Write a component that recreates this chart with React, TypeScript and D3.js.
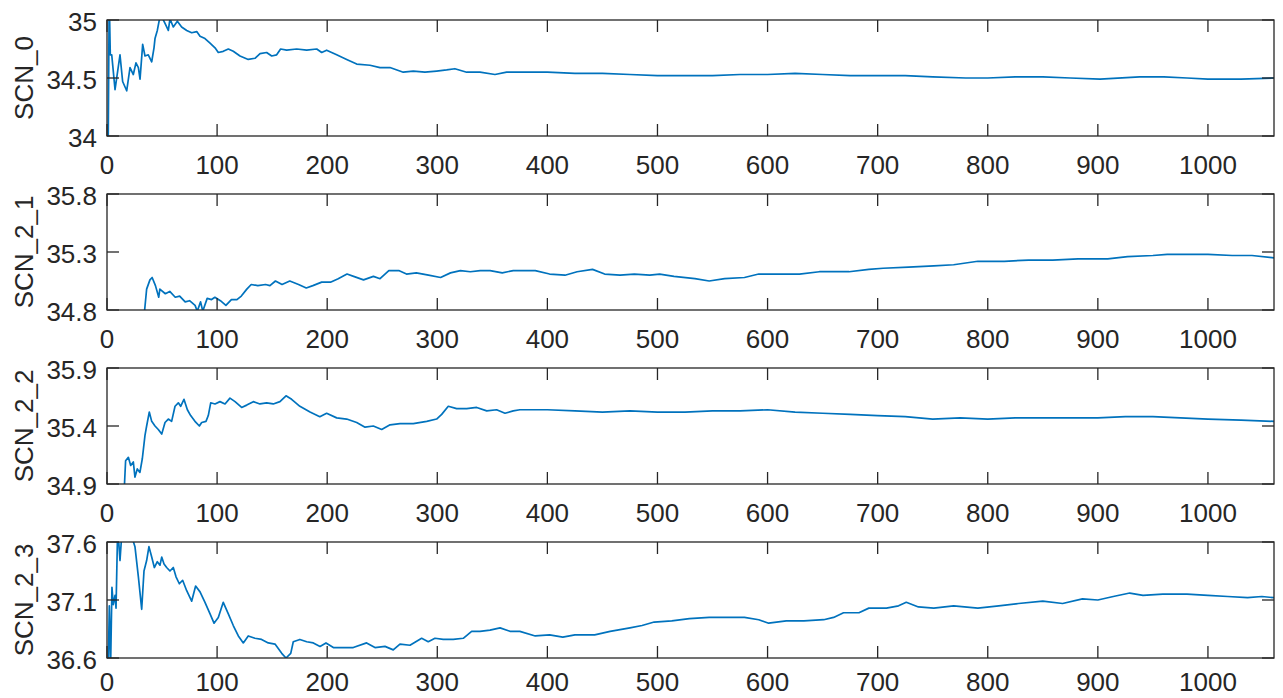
import * as d3 from 'd3';

// x ticks shared by every panel
const xTickValues = [0, 100, 200, 300, 400, 500, 600, 700, 800, 900, 1000];

// panel labels and y ticks
const panelLabels = ['SCN_0', 'SCN_2_1', 'SCN_2_2', 'SCN_2_3'];
const yTicks0 = [34, 34.5, 35];
const yTicks1 = [34.8, 35.3, 35.8];
const yTicks2 = [34.9, 35.4, 35.9];
const yTicks3 = [36.6, 37.1, 37.6];

// series values, [iteration, value]
const scn0 = [
  [1, 33.8], [2, 35.2], [3, 34.7], [4.3, 34.7], [7.3, 34.4], [11.8, 34.7], [14.2, 34.47], [17.9, 34.39],
  [20.9, 34.59], [23.9, 34.53], [26.3, 34.63], [28.5, 34.59], [30, 34.49], [32.4, 34.79], [34.5, 34.69],
  [37.5, 34.7], [40.6, 34.64], [42.7, 34.76], [43.6, 34.84], [45.7, 34.91], [47.5, 35.0], [49.7, 35.03],
  [52.7, 34.97], [55.7, 34.91], [57.2, 35.01], [60.2, 34.94], [63.9, 34.99], [67.8, 34.94], [72.4, 34.91],
  [76.9, 34.89], [81.5, 34.9], [84.5, 34.86], [89, 34.84], [93.6, 34.8], [98.1, 34.76], [101.1, 34.72],
  [105.6, 34.73], [110.2, 34.75], [114.7, 34.73], [120.8, 34.69], [128.3, 34.66], [134.4, 34.67], [139, 34.71],
  [145, 34.72], [149.6, 34.69], [154.1, 34.7], [157.7, 34.75], [163.2, 34.74], [172.3, 34.75], [181.4, 34.74],
  [190.5, 34.75], [195, 34.72], [199.5, 34.74], [208.6, 34.7], [217.7, 34.66], [226.8, 34.62], [238.9, 34.61],
  [248, 34.59], [257, 34.59], [269.1, 34.55], [278.2, 34.56], [288.8, 34.55], [299.4, 34.56], [308.5, 34.57],
  [316, 34.58], [326.7, 34.55], [338.8, 34.55], [352.4, 34.53], [363, 34.55], [375, 34.55], [400, 34.55],
  [425, 34.54], [450, 34.54], [475, 34.53], [500, 34.52], [525, 34.52], [550, 34.52], [575, 34.53],
  [600, 34.53], [625, 34.54], [650, 34.53], [675, 34.52], [700, 34.52], [725, 34.52], [750, 34.51],
  [780, 34.5], [800, 34.5], [825, 34.51], [850, 34.51], [875, 34.5], [902, 34.49], [938, 34.51],
  [960, 34.51], [981, 34.5], [1000, 34.49], [1030, 34.49], [1060, 34.5],
];

const scn21 = [
  [34, 34.78], [36, 34.98], [39, 35.06], [41, 35.08], [44, 35.01], [47, 34.91], [48, 34.98], [53, 34.94],
  [57, 34.96], [62, 34.91], [66, 34.92], [71, 34.87], [75, 34.88], [80, 34.84], [82, 34.79], [85, 34.87],
  [87, 34.79], [91, 34.9], [95, 34.89], [98, 34.91], [103, 34.88], [108, 34.84], [113, 34.89], [118, 34.89],
  [122, 34.92], [127, 34.98], [131, 35.02], [137, 35.01], [144, 35.02], [148, 35.01], [153, 35.05], [159, 35.02],
  [166, 35.05], [174, 35.02], [181, 34.99], [187, 35.01], [195, 35.04], [203, 35.04], [210, 35.07], [218, 35.11],
  [224, 35.09], [233, 35.06], [242, 35.09], [248, 35.07], [256, 35.14], [265, 35.14], [272, 35.11], [281, 35.12],
  [292, 35.1], [303, 35.08], [312, 35.12], [321, 35.14], [330, 35.13], [339, 35.14], [348, 35.14], [359, 35.12],
  [369, 35.14], [375, 35.14], [389, 35.14], [402, 35.11], [416, 35.1], [427, 35.13], [441, 35.15], [452, 35.11],
  [466, 35.1], [479, 35.11], [493, 35.1], [502, 35.11], [515, 35.09], [534, 35.07], [547, 35.05], [561, 35.07],
  [579, 35.08], [592, 35.11], [610, 35.11], [629, 35.11], [647, 35.13], [674, 35.13], [692, 35.15], [705, 35.16],
  [728, 35.17], [751, 35.18], [769, 35.19], [791, 35.22], [815, 35.22], [837, 35.23], [859, 35.23], [882, 35.24],
  [909, 35.24], [927, 35.26], [950, 35.27], [963, 35.28], [981, 35.28], [1000, 35.28], [1022, 35.27],
  [1040, 35.27], [1060, 35.25],
];

const scn22 = [
  [15.7, 34.86], [16.9, 35.1], [19.4, 35.13], [21.5, 35.06], [23.9, 35.09], [25.4, 34.96], [27.5, 35.03],
  [29.9, 35.0], [32.1, 35.12], [34.5, 35.32], [36, 35.4], [38.4, 35.52], [40.6, 35.44], [43.6, 35.4],
  [46.6, 35.37], [49.7, 35.33], [52.7, 35.43], [55.7, 35.46], [58.7, 35.44], [61.8, 35.57], [64.8, 35.6],
  [66.9, 35.57], [69.9, 35.63], [73, 35.54], [76, 35.49], [79.9, 35.44], [83.9, 35.4], [86, 35.43],
  [89.9, 35.44], [92, 35.49], [94.2, 35.6], [98.1, 35.59], [102.6, 35.61], [107.2, 35.59], [111.7, 35.64],
  [116.3, 35.61], [122.3, 35.56], [126.9, 35.58], [132.9, 35.61], [138.9, 35.59], [145, 35.6], [151, 35.59],
  [157.1, 35.61], [162.6, 35.66], [167.7, 35.63], [175.2, 35.57], [184.4, 35.52], [193.3, 35.48], [199.5, 35.51],
  [208.6, 35.47], [217.7, 35.46], [226.8, 35.43], [234.4, 35.39], [241.9, 35.4], [249.5, 35.37], [257.1, 35.41],
  [266.1, 35.42], [278.2, 35.42], [290.4, 35.44], [299.4, 35.46], [304, 35.5], [310, 35.57], [317.6, 35.55],
  [326.7, 35.55], [335.8, 35.56], [344.9, 35.53], [353.9, 35.54], [361.5, 35.51], [369, 35.53], [375, 35.54],
  [400, 35.54], [425, 35.53], [450, 35.52], [475, 35.53], [500, 35.52], [525, 35.52], [550, 35.53],
  [575, 35.53], [600, 35.54], [625, 35.52], [650, 35.51], [675, 35.5], [700, 35.49], [725, 35.48],
  [750, 35.46], [775, 35.47], [800, 35.46], [825, 35.47], [850, 35.47], [875, 35.47], [900, 35.47],
  [925, 35.48], [950, 35.48], [975, 35.47], [1000, 35.46], [1030, 35.45], [1060, 35.44],
];

const scn23 = [
  [1.2, 36.55], [2.1, 37.05], [3.3, 36.55], [4.5, 37.21], [5.7, 37.06], [7.3, 37.14], [8.2, 37.03],
  [9.4, 37.59], [10.3, 37.65], [11.8, 37.44], [13.3, 37.65], [22.4, 37.65], [25.4, 37.56], [28.5, 37.3],
  [31.5, 37.02], [33.6, 37.35], [36, 37.44], [38.1, 37.56], [40.6, 37.47], [43, 37.38], [45.7, 37.43],
  [48.1, 37.4], [49.7, 37.47], [51.8, 37.41], [54.2, 37.38], [57.2, 37.35], [60.2, 37.38], [62.7, 37.3],
  [65.7, 37.24], [68.7, 37.27], [72.4, 37.18], [76.9, 37.09], [80.5, 37.22], [84.5, 37.17], [89, 37.08],
  [93.6, 36.98], [97.2, 36.9], [101.1, 36.95], [105.6, 37.08], [110.2, 36.98], [114.7, 36.88], [119.3, 36.79],
  [123.8, 36.73], [128.3, 36.79], [134.4, 36.77], [140.4, 36.76], [146.5, 36.73], [152.6, 36.72], [158.7, 36.64],
  [162.6, 36.6], [166.9, 36.64], [169.2, 36.74], [175.2, 36.76], [181.4, 36.74], [187.4, 36.73], [193.5, 36.7],
  [198.9, 36.73], [205.6, 36.69], [214.7, 36.69], [223.7, 36.69], [235.8, 36.73], [243.4, 36.69], [252.5, 36.7],
  [260, 36.67], [266.1, 36.72], [275.2, 36.71], [285.8, 36.77], [291.8, 36.74], [297.9, 36.77], [305.4, 36.76],
  [314.5, 36.76], [323.6, 36.77], [331.2, 36.83], [338.8, 36.83], [347.9, 36.84], [357, 36.86], [366, 36.83],
  [375, 36.83], [389, 36.79], [402, 36.8], [414, 36.78], [425, 36.8], [443, 36.8], [457, 36.83], [475, 36.86],
  [486, 36.88], [497, 36.91], [513, 36.92], [529, 36.94], [547, 36.95], [565, 36.95], [579, 36.95],
  [592, 36.93], [601, 36.9], [617, 36.92], [633, 36.92], [651, 36.93], [660, 36.95], [669, 36.99], [683, 36.99],
  [692, 37.03], [708, 37.03], [719, 37.05], [726, 37.08], [737, 37.04], [751, 37.03], [769, 37.05], [791, 37.03],
  [810, 37.05], [828, 37.07], [850, 37.09], [868, 37.07], [886, 37.11], [900, 37.1], [914, 37.13], [929, 37.16],
  [941, 37.14], [959, 37.15], [981, 37.15], [1000, 37.14], [1018, 37.13], [1036, 37.12], [1049, 37.13], [1060, 37.12],
];

const allSeries = [scn0, scn21, scn22, scn23];
const allTicks = [yTicks0, yTicks1, yTicks2, yTicks3];

const LEFT = 107;
const RIGHT = 1274;
const PANEL_H = 116;
const PANEL_TOPS = [20, 194, 368, 542];
const TICK = 12;
const AXIS = '#262626';
const FONT = 26;

export default function App() {
  const x = d3.scaleLinear().domain([0, 1060]).range([LEFT, RIGHT]);

  return (
    <svg
      width={1283}
      height={698}
      style={{ position: 'absolute', left: 0, top: 0, background: '#fff' }}
      fontFamily="'Liberation Sans', Arial, Helvetica, sans-serif"
    >
      {allSeries.map((series, i) => {
        const top = PANEL_TOPS[i];
        const bottom = top + PANEL_H;
        const ticks = allTicks[i];
        const y = d3.scaleLinear().domain([ticks[0], ticks[2]]).range([bottom, top]);
        const line = d3.line<number[]>().x(d => x(d[0])).y(d => y(d[1]));
        const clipId = `clip-${i}`;
        // last row sits on the page edge, pull its labels up a little
        const labelOffset = i === allSeries.length - 1 ? 33 : 38;
        return (
          <g key={i}>
            <clipPath id={clipId}>
              <rect x={LEFT} y={top} width={RIGHT - LEFT} height={PANEL_H} />
            </clipPath>
            <path
              d={line(series) || ''}
              fill="none"
              stroke="#0072BD"
              strokeWidth={1.7}
              strokeLinejoin="round"
              clipPath={`url(#${clipId})`}
            />
            {/* x ticks top and bottom, inward */}
            {xTickValues.map(t => (
              <g key={t}>
                <line x1={x(t)} x2={x(t)} y1={bottom} y2={bottom - TICK} stroke={AXIS} strokeWidth={1.3} />
                <line x1={x(t)} x2={x(t)} y1={top} y2={top + TICK} stroke={AXIS} strokeWidth={1.3} />
                <text x={x(t)} y={bottom + labelOffset} textAnchor="middle" fontSize={FONT} fill={AXIS}>
                  {t}
                </text>
              </g>
            ))}
            {/* y ticks left and right, inward */}
            {ticks.map(t => (
              <g key={t}>
                <line x1={LEFT} x2={LEFT + TICK} y1={y(t)} y2={y(t)} stroke={AXIS} strokeWidth={1.3} />
                <line x1={RIGHT} x2={RIGHT - TICK} y1={y(t)} y2={y(t)} stroke={AXIS} strokeWidth={1.3} />
                <text x={LEFT - 10} y={y(t) + 11} textAnchor="end" fontSize={FONT} fill={AXIS}>
                  {t}
                </text>
              </g>
            ))}
            <rect
              x={LEFT}
              y={top}
              width={RIGHT - LEFT}
              height={PANEL_H}
              fill="none"
              stroke={AXIS}
              strokeWidth={1.3}
            />
            <text
              transform={`translate(33,${top + PANEL_H / 2}) rotate(-90)`}
              textAnchor="middle"
              fontSize={FONT}
              fill={AXIS}
            >
              {panelLabels[i]}
            </text>
          </g>
        );
      })}
    </svg>
  );
}
